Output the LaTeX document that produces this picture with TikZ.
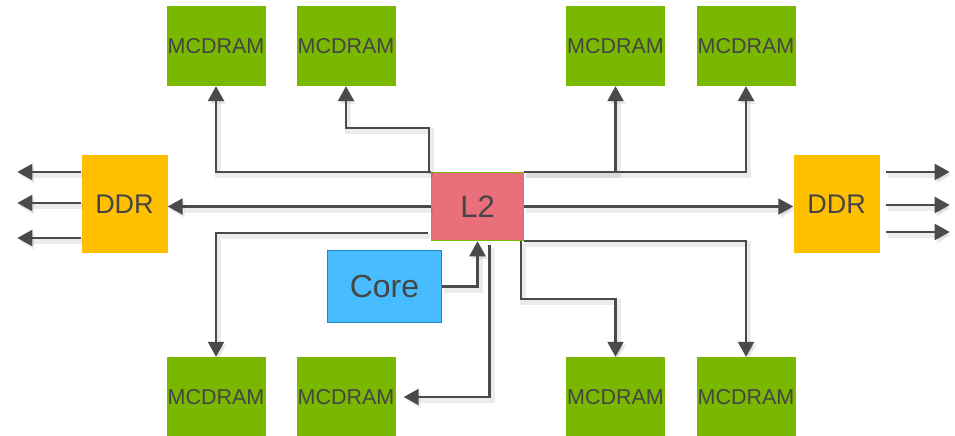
\documentclass[tikz,border=0pt]{standalone}
\usepackage{fontspec}
\setmainfont{Liberation Sans}
\usetikzlibrary{arrows.meta,calc}
\definecolor{mgreen}{HTML}{7AB800}
\definecolor{ddrorange}{HTML}{FFC000}
\definecolor{ltwo}{HTML}{E9707A}
\definecolor{corefill}{HTML}{47BDFF}
\definecolor{coreedge}{HTML}{1C86C8}
\definecolor{ink}{HTML}{454545}
\definecolor{wire}{HTML}{4A4A4A}
\tikzset{
  mcd/.style={fill=mgreen, draw=none, minimum width=99pt, minimum height=80pt,
    inner sep=0pt, text=ink, font=\fontsize{21.5}{23}\selectfont},
  ddrbox/.style={fill=ddrorange, draw=none, minimum width=86pt, minimum height=98pt,
    inner sep=0pt, text=ink, font=\fontsize{27}{29}\selectfont},
  cachebox/.style={fill=ltwo, draw=mgreen, line width=1.5pt, minimum width=92pt,
    minimum height=68pt, inner sep=0pt, text=ink, font=\fontsize{31}{33}\selectfont},
  corebox/.style={fill=corefill, draw=coreedge, line width=1.5pt, minimum width=114pt,
    minimum height=72pt, inner sep=0pt, text=ink, font=\fontsize{32}{34}\selectfont},
  conn/.style={draw=wire, line width=2.2pt,
    -{Triangle[length=15pt 0,width=16pt 0]},
    preaction={draw=black, opacity=0.08, line width=6pt,
      transform canvas={shift={(2pt,-3pt)}}}},
}
\begin{document}
\begin{tikzpicture}[x=1pt, y=-1pt]
\useasboundingbox (0,0) rectangle (955,436);

% memory tiles
\node[mcd] (m1) at (216,46) {MCDRAM};
\node[mcd] (m2) at (346,46) {MCDRAM};
\node[mcd] (m3) at (615.5,46) {MCDRAM};
\node[mcd] (m4) at (746,46) {MCDRAM};
\node[mcd] (m5) at (216,397) {MCDRAM};
\node[mcd] (m6) at (346,397) {MCDRAM};
\node[mcd] (m7) at (615.5,397) {MCDRAM};
\node[mcd] (m8) at (746,397) {MCDRAM};

% DDR controllers
\node[ddrbox] (ddrL) at (124.5,204) {DDR};
\node[ddrbox] (ddrR) at (836.5,204) {DDR};

% cache and core
\node[cachebox] (L2) at (477.5,206.5) {L2};
\node[corebox] (core) at (384.5,286.5) {Core};

% L2 to upper memory tiles
\draw[conn] (L2.north west) -| (m1.south);
\draw[conn] ($(L2.north west)+(-2,0)$) -- ++(0,-44) -| (m2.south);
\draw[conn] (L2.north east) -| (m3.south);
\draw[conn] (L2.north east) -| (m4.south);

% L2 to DDR controllers
\draw[conn] (L2.west) -- (L2.west -| ddrL.east);
\draw[conn] (L2.east) -- (L2.east -| ddrR.west);

% core into L2
\draw[conn] (core.east) -| (L2.south);

% L2 to lower memory tiles
\draw[conn] ($(L2.south west)+(-3,-8)$) -| (m5.north);
\draw[conn, shorten >=8pt] ($(L2.south)+(12,4)$) |- (m6.east);
\draw[conn] ($(L2.south east)+(-3,0)$) -- ++(0,58) -| (m7.north);
\draw[conn] (L2.south east) -| (m8.north);

% DDR external channels
\draw[conn] ($(ddrL.west)+(0,-32)$) -- ++(-64,0);
\draw[conn] ($(ddrL.west)+(0,-1)$) -- ++(-64,0);
\draw[conn] ($(ddrL.west)+(0,34)$) -- ++(-64,0);
\draw[conn] ($(ddrR.east)+(6,-32)$) -- ++(64,0);
\draw[conn] ($(ddrR.east)+(6,1)$) -- ++(64,0);
\draw[conn] ($(ddrR.east)+(6,28)$) -- ++(64,0);
\end{tikzpicture}
\end{document}
